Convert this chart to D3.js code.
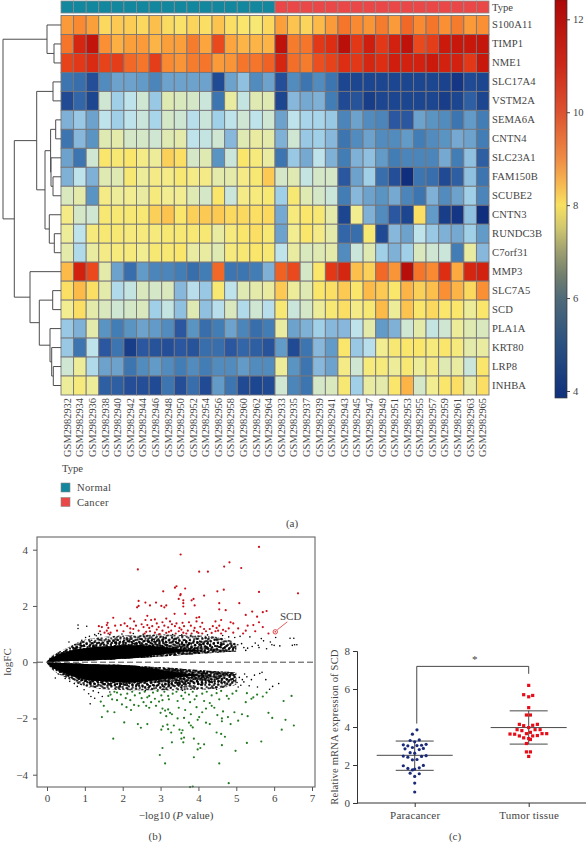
<!DOCTYPE html>
<html><head><meta charset="utf-8">
<script src="https://cdn.jsdelivr.net/npm/d3@7"></script>
<style>
html,body{margin:0;padding:0;background:#fff}
svg{display:block}
text{font-family:"Liberation Serif",serif;fill:#444}
</style></head><body><svg id="c" width="586" height="842"></svg>
<script>
const genes=["S100A11","TIMP1","NME1","SLC17A4","VSTM2A","SEMA6A","CNTN4","SLC23A1","FAM150B","SCUBE2","CNTN3","RUNDC3B","C7orf31","MMP3","SLC7A5","SCD","PLA1A","KRT80","LRP8","INHBA"];
const normalSamples=["GSM2982932","GSM2982934","GSM2982936","GSM2982938","GSM2982940","GSM2982942","GSM2982944","GSM2982946","GSM2982948","GSM2982950","GSM2982952","GSM2982954","GSM2982956","GSM2982958","GSM2982960","GSM2982962","GSM2982964"];
const cancerSamples=["GSM2982933","GSM2982935","GSM2982937","GSM2982939","GSM2982941","GSM2982943","GSM2982945","GSM2982947","GSM2982949","GSM2982951","GSM2982953","GSM2982955","GSM2982957","GSM2982959","GSM2982961","GSM2982963","GSM2982965"];
const expression=[
[9.3,9.6,9.2,8.2,8.4,8.35,8.2,8.6,8.15,8.05,8.25,8.1,8.5,8.1,8.0,7.9,8.2, 9.2,8.5,8.25,8.7,9.3,9.9,9.6,9.4,9.8,9.3,10.1,9.6,9.9,9.5,9.8,9.3,9.5],
[9.9,11.3,11.9,9.5,8.9,9.2,9.3,8.8,9.2,9.2,9.8,9.1,10.6,9.1,8.8,8.8,8.8, 12.0,9.8,9.9,10.9,11.1,12.1,10.9,11.5,10.9,11.4,12.0,10.6,10.8,11.6,11.7,11.7,11.8],
[10.7,10.9,11.2,10.7,10.8,10.1,9.9,10.8,9.6,9.4,9.8,9.9,9.3,9.4,9.9,9.9,10.2, 11.3,10.0,9.8,10.5,10.7,11.1,10.9,11.3,11.1,11.5,11.4,11.4,11.6,11.4,11.4,10.9,11.7],
[5.0,4.9,4.4,5.3,5.6,5.6,5.5,5.2,5.6,5.6,5.6,5.6,4.3,5.6,6.0,5.3,5.6, 4.4,5.3,5.0,5.3,5.0,4.2,4.2,4.2,4.2,4.2,4.2,4.2,4.2,4.15,4.0,4.3,4.2],
[4.3,4.8,4.2,6.9,6.2,6.6,6.9,6.1,7.2,7.1,7.0,6.8,5.0,7.4,6.7,7.2,7.2, 4.2,5.9,5.7,5.8,5.1,4.3,4.5,4.1,4.2,4.2,4.2,4.2,4.2,4.1,4.2,4.7,4.2],
[5.8,6.1,5.6,6.6,6.2,6.6,6.8,6.3,7.0,6.9,6.5,6.8,6.2,6.6,6.9,6.6,6.9, 5.6,6.6,6.3,6.3,6.1,5.2,5.6,5.3,5.2,4.6,4.6,5.6,5.4,5.3,5.0,5.5,5.1],
[5.0,5.9,5.4,7.2,7.3,7.0,7.0,6.9,7.2,7.3,6.6,6.7,6.9,5.9,7.2,7.4,7.3, 5.8,6.9,6.1,6.2,5.9,5.0,5.3,5.6,5.3,5.3,5.5,5.1,5.3,5.4,5.7,5.6,5.1],
[5.6,5.0,6.9,8.0,7.9,8.0,7.7,7.5,8.3,8.1,7.0,7.2,5.4,6.8,8.0,7.8,7.4, 5.0,6.1,5.7,6.6,5.8,5.1,5.8,6.0,5.5,5.1,5.2,5.2,5.2,5.7,5.1,6.0,4.7],
[5.8,6.6,5.8,7.2,7.2,7.9,7.5,7.7,7.7,7.9,7.7,7.7,7.3,7.3,7.7,7.9,8.4, 7.0,7.2,6.7,7.0,7.0,4.6,5.6,6.2,4.9,4.4,3.9,5.0,4.9,4.3,4.7,6.0,5.0],
[7.1,7.3,5.4,7.7,7.5,7.6,7.4,7.8,7.6,7.6,7.2,7.0,8.0,6.8,7.7,7.8,7.9, 6.2,7.9,7.2,7.0,6.8,5.1,5.9,5.6,5.4,5.7,5.2,5.0,5.8,5.3,5.6,6.2,5.2],
[7.7,7.0,6.9,7.9,7.9,7.9,7.9,8.3,8.5,8.0,8.3,8.4,8.4,8.2,8.2,8.1,8.2, 5.7,7.8,8.0,7.9,7.3,4.2,7.6,5.8,5.3,4.6,4.2,8.1,5.5,4.1,4.0,6.0,3.9],
[7.5,6.6,7.8,7.9,7.9,7.8,7.8,7.8,7.9,7.9,7.9,7.9,7.4,7.8,8.0,8.1,7.9, 5.6,7.6,8.0,7.7,7.3,4.8,4.9,7.9,4.3,5.9,5.6,6.6,6.1,5.8,5.7,6.2,5.5],
[7.3,6.4,7.4,7.7,7.8,7.8,7.6,7.9,7.9,8.0,7.4,7.4,7.2,7.8,7.9,8.0,7.9, 6.6,7.4,7.1,7.2,7.3,5.3,6.8,7.2,6.2,5.8,6.2,7.1,6.9,6.8,5.1,7.4,5.9],
[8.7,11.4,10.6,7.3,5.6,4.9,5.5,5.2,5.2,5.1,4.9,5.1,10.1,5.0,5.0,5.1,5.8, 10.2,10.6,7.0,8.0,10.9,11.3,8.6,8.3,10.1,9.4,12.2,9.9,9.6,11.1,9.0,11.3,11.4],
[8.1,8.7,8.1,7.3,6.4,6.7,7.1,7.0,7.1,5.9,6.5,6.1,7.9,6.6,7.2,7.3,7.4, 8.4,7.5,7.2,8.0,8.1,8.4,8.0,8.7,8.4,8.0,8.8,8.3,8.6,9.5,8.8,8.2,9.5],
[7.6,8.1,7.3,7.1,6.9,7.0,7.1,6.2,6.7,6.0,7.2,6.0,6.5,7.1,6.4,6.9,6.5, 7.9,6.8,7.0,7.5,7.9,8.1,7.7,7.9,8.7,7.5,8.5,8.0,8.2,8.0,8.0,7.5,8.0],
[6.1,5.8,7.3,5.4,5.1,5.4,5.6,5.5,5.3,4.6,5.4,4.9,5.1,5.6,5.2,4.9,5.1, 7.4,5.6,5.8,6.2,5.9,5.9,6.6,7.3,5.5,5.8,6.9,7.3,6.7,6.9,7.5,7.2,7.1],
[6.1,5.0,6.6,4.6,5.0,4.1,4.6,4.5,4.4,4.6,4.5,4.9,4.9,4.6,4.8,4.7,4.5, 5.5,4.3,5.0,5.9,5.5,8.0,6.1,6.5,7.6,7.9,8.0,8.0,7.8,8.0,7.8,7.3,7.4],
[6.9,7.5,6.4,5.6,5.6,5.0,5.3,5.5,5.3,5.1,5.3,5.1,5.3,5.3,5.5,5.3,5.3, 7.5,5.4,5.0,5.9,5.6,7.7,6.9,7.8,7.8,7.5,7.9,7.5,7.7,7.2,7.4,6.8,8.0],
[7.5,7.8,7.5,4.7,4.7,4.4,4.4,4.3,5.0,4.4,4.9,4.3,5.5,5.0,4.3,4.2,4.3, 6.9,5.2,5.0,7.0,7.1,7.9,6.2,7.4,7.3,8.0,8.8,7.0,7.6,8.0,8.1,7.4,8.1]];
const cellStops=[3.9,4.2,4.6,5,5.4,5.8,6.2,6.6,6.9,7.2,7.6,8,8.4,9,9.6,10.3,11,11.6,12.3];
const cellColors=["#0f2e7e","#1d4690","#2a579f","#3c75b0","#5a94c3","#7fb0d6","#a0d0e8","#bfe3ea","#cfe6d2","#dfe9b2","#f2ed90","#f9e66a","#fcc952","#fcaa40","#f98a32","#ef5a22","#e03216","#cb1a0c","#b50c08"];
const barStops=[12.42,11,10,9,8.5,8,7.5,7,6.5,6,5,3.85];
const barColors=["#ad0808","#cb2a1a","#dc5230","#ee8c45","#f6b450","#f8e160","#cfc66f","#9d9f70","#737f6e","#4f6a78","#2a5080","#10307c"];
const barTicks=[4,6,8,10,12];
const typeNames=["Normal","Cancer"];
const typeColors=["#12879e","#ea4848"];
const merges=[[1,2,7],[0,"m0",14],[3,4,8],[5,6,5.3],[8,9,8],[7,"m4",10],["m3","m5",10.4],[11,12,6.7],[10,"m7",11.7],["m6","m8",16],["m2","m9",24.3],[14,15,8.3],[18,19,7.7],[17,"m12",9.3],[16,"m13",11],["m11","m14",21.7],[13,"m15",31],["m10","m16",46.7],["m1","m17",58]];

// volcano: the dense cloud is summarised by envelopes
const volcanoTicksX=[0,1,2,3,4,5,6,7], volcanoTicksY=[-4,-2,0,2,4];
const envX=[0,0.05,0.1,0.2,0.3,0.45,0.6,0.8,1,1.25,1.5,1.75,2,2.25,2.5,2.75,3,3.25,3.5,3.75,4,4.25,4.5,4.75,5];
const fringeUp=[0.04,0.12,0.2,0.28,0.36,0.46,0.56,0.7,0.8,0.86,0.9,0.93,0.95,0.96,0.97,0.98,0.98,0.98,0.97,0.96,0.95,0.93,0.9,0.82,0.72];
const coreUp=[0.03,0.09,0.15,0.2,0.28,0.34,0.4,0.46,0.5,0.54,0.56,0.58,0.6,0.6,0.62,0.63,0.62,0.6,0.58,0.56,0.54,0.5,0.47,0.42,0.4];
const gapUp=[0.01,0.012,0.015,0.02,0.025,0.03,0.04,0.05,0.06,0.07,0.085,0.1,0.12,0.14,0.16,0.18,0.2,0.22,0.25,0.27,0.3,0.32,0.34,0.36,0.38];
const gapLo=[-0.01,-0.012,-0.015,-0.02,-0.025,-0.03,-0.04,-0.05,-0.06,-0.07,-0.08,-0.09,-0.1,-0.12,-0.14,-0.16,-0.18,-0.2,-0.22,-0.25,-0.28,-0.3,-0.32,-0.34,-0.36];
const coreLo=[-0.03,-0.09,-0.16,-0.24,-0.3,-0.38,-0.46,-0.55,-0.62,-0.66,-0.68,-0.7,-0.72,-0.72,-0.72,-0.72,-0.72,-0.7,-0.68,-0.66,-0.62,-0.58,-0.55,-0.5,-0.46];
const fringeLo=[-0.04,-0.13,-0.22,-0.32,-0.42,-0.52,-0.62,-0.76,-0.86,-0.92,-0.96,-0.98,-0.99,-1,-1,-1,-1,-1,-1,-0.99,-0.98,-0.96,-0.94,-0.88,-0.8];
const solidShare=[1,1,1,1,1,1,1,1,1,1,1,1,1,1,0.92,0.8,0.66,0.5,0.34,0.2,0.08,0,0,0,0];
const stippleDots=[[1,2],[5,1],[9,3],[13,1],[17,2],[21,1],[24,3],[3,5],[7,6],[11,5],[15,7],[19,5],[23,6],[1,8],[5,9],[9,8],[12,10],[17,9],[21,9],[25,10],[3,11],[7,12],[10,13],[14,12],[19,12],[23,13],[1,14],[5,15],[8,16],[12,15],[16,15],[20,16],[24,16],[2,17],[6,18],[10,19],[14,18],[18,18],[22,19],[25,20],[3,20],[7,21],[12,21],[16,21],[20,22],[23,23],[1,23],[5,24],[9,24],[13,24],[18,25],[22,25],[25,25],[15,3],[2,11],[20,19],[11,17],[6,3],[17,13],[8,22]];
const blackPoints=[[0.82,1.32],[1.05,1.28],[0.82,1.2],[0.58,0.72],[0.92,0.78],[0.74,0.62],[0.66,0.55],[0.88,0.66],[1.02,0.88],[1.12,0.92],[1.18,0.78],[1.26,0.98],[1.3,0.94],[1.36,1.02],[1.42,0.98],[1.66,0.98],[1.98,1.0],[2.28,1.02],[2.54,0.99],[2.96,1.0],[3.32,0.98],[3.56,0.97],[3.8,0.96],[4.24,0.97],[4.64,0.95],[4.8,0.9],[4.96,0.88],[5.04,0.62],[5.1,0.92],[5.14,0.66],[5.2,0.52],[5.25,0.42],[5.3,0.5],[5.36,0.9],[5.42,0.56],[5.5,0.68],[5.58,0.6],[5.66,0.84],[5.72,0.76],[5.6,0.52],[5.8,0.48],[5.9,0.72],[5.94,0.62],[6,0.6],[6.04,0.88],[6.15,0.58],[6.42,0.85],[6.52,0.85],[6.48,0.6],[6.54,0.62],[6.6,0.62],
[0.22,-0.56],[0.3,-0.42],[0.48,-0.58],[0.6,-0.68],[0.72,-0.76],[0.8,-0.86],[0.98,-0.98],[1.1,-1.12],[1.14,-1.48],[1.16,-1.22],[1.22,-1.02],[1.26,-1.28],[1.36,-1.08],[1.46,-1.22],[1.66,-1.06],[2.6,-1.01],[3.58,-1.0],[4.48,-0.96],[5.02,-0.72],[5.08,-0.54],[5.16,-0.62],[5.22,-0.42],[5.28,-0.52],[5.34,-0.84],[5.4,-0.62],[5.48,-0.46],[5.56,-0.88],[5.62,-0.4],[5.68,-0.36],[5.78,-0.62],[5.88,-0.96],[5.96,-0.86],[6.12,-0.76],[5.12,-0.82],[5.2,-0.7],[5.05,-0.88]];
const redPoints=[[5.6,4.1],[3.53,3.83],[4.82,3.55],[4.68,3.4],[5.13,3.35],[2.4,3.3],[4.02,3.22],[4.25,3.22],[3.42,2.7],[3.38,2.65],[3.65,2.62],[4.67,2.58],[4.5,2.52],[3.07,2.52],[5.6,2.5],[6.63,2.45],[3.53,2.42],[3.52,2.38],[4.15,2.37],[3.48,2.25],[3.87,2.25],[3.82,2.2],[3.6,2.2],[2.42,2.18],[2.6,2.12],[2.88,2.12],[4.55,2.1],[5.08,2.1],[3.6,2.1],[3.9,2.02],[2.38,1.95],[2.42,2.0],[2.72,2.02],[3.02,2.0],[3.1,1.95],[3.15,2.02],[3.6,1.98],[4.55,1.88],[5.8,1.82],[5.7,1.78],[5.42,1.8],[4.72,1.85],[3.37,1.72],[3.65,1.72],[5.25,1.68],[5.55,1.62],[4.02,1.6],[3.95,1.58],[2.65,1.65],[1.75,1.58],[2.2,1.55],[2.6,1.5],[2.75,1.5],[2.85,1.52],[3.15,1.55],[3.25,1.45],[3.05,1.42],[1.6,1.4],[1.58,1.32],[2.3,1.45],[2.05,1.38],[2.5,1.35],[2.9,1.38],[3.3,1.35],[3.42,1.38],[3.58,1.4],[3.75,1.42],[3.95,1.45],[4.1,1.4],[4.45,1.45],[4.6,1.5],[4.85,1.42],[4.92,1.38],[5.3,1.3],[5.45,1.32],[5.6,1.42],[5.7,1.25],[5.25,1.12],[4.8,1.2],[4.55,1.3],[4.38,1.28],[1.37,1.28],[1.45,1.25],[1.62,1.22],[1.8,1.3],[1.95,1.32],[2.12,1.28],[2.2,1.2],[2.35,1.3],[2.55,1.25],[2.65,1.32],[2.7,1.22],[2.78,1.28],[2.95,1.25],[3.1,1.3],[3.2,1.24],[3.38,1.28],[3.5,1.22],[3.62,1.28],[3.8,1.3],[3.9,1.22],[4.05,1.26],[4.3,1.18],[4.48,1.22],[4.65,1.15],[5.05,1.2],[5.5,1.1],[5.85,1.02],[1.4,1.1],[1.52,1.05],[1.58,1.12],[1.68,1.05],[1.85,1.12],[2.02,1.1],[2.2,1.05],[2.42,1.12],[2.58,1.02],[2.72,1.1],[2.85,1.05],[2.98,1.0],[3.05,1.12],[3.15,1.04],[3.28,1.12],[3.4,1.02],[3.48,1.1],[3.6,1.05],[3.72,1.12],[3.82,1.02],[3.96,1.08],[4.1,1.02],[4.2,1.1],[4.35,1.04],[4.45,1.1],[4.6,1.02],[4.72,1.1],[4.92,1.05],[5.18,1.02],[1.62,1.02],[2.28,1.18],[2.62,1.08],[2.9,1.16],[3.22,1.08],[3.55,1.16],[3.68,1.02],[3.88,1.12],[4.0,1.04],[4.15,1.18],[4.52,1.12]];
const greenPoints=[[1.75,-2.72],[1.45,-1.95],[1.78,-1.78],[1.6,-1.75],[2.04,-2.14],[2.4,-2.2],[2.48,-2.33],[2.65,-2.2],[1.5,-1.55],[1.42,-1.4],[1.72,-1.32],[1.62,-1.2],[1.85,-1.35],[1.98,-1.5],[2.1,-1.6],[2.22,-1.7],[2.2,-1.35],[2.42,-1.55],[2.55,-1.42],[2.62,-1.55],[2.7,-1.62],[2.75,-1.42],[2.88,-1.55],[2.96,-1.4],[1.85,-1.08],[1.78,-1.05],[1.68,-1.15],[1.95,-1.15],[2.12,-1.12],[2.25,-1.05],[2.32,-1.18],[2.45,-1.1],[2.58,-1.05],[2.7,-1.2],[2.8,-1.08],[2.92,-1.02],[3.02,-1.18],[3.1,-1.05],[3.2,-1.2],[3.32,-1.12],[3.42,-1.05],[3.55,-1.2],[3.65,-1.08],[3.75,-1.15],[3.85,-1.05],[3.95,-1.2],[4.1,-1.12],[4.22,-1.05],[4.35,-1.18],[4.48,-1.1],[4.6,-1.02],[4.75,-1.2],[4.9,-1.12],[5.0,-1.02],[5.28,-1.1],[5.45,-1.25],[5.55,-1.15],[5.8,-1.08],[5.7,-1.22],[2.5,-1.28],[2.65,-1.25],[2.85,-1.3],[3.05,-1.35],[3.22,-1.32],[3.45,-1.38],[3.6,-1.3],[3.78,-1.42],[3.9,-1.32],[4.15,-1.38],[4.3,-1.45],[4.55,-1.32],[4.8,-1.3],[5.25,-1.42],[5.4,-1.3],[6.46,-1.2],[6.25,-1.38],[3.0,-1.8],[3.05,-1.65],[3.12,-1.72],[3.2,-1.68],[3.25,-1.8],[3.3,-1.85],[3.15,-1.92],[3.48,-1.62],[3.65,-1.7],[3.8,-1.85],[3.95,-1.6],[4.1,-1.78],[4.02,-1.95],[4.2,-1.65],[4.42,-1.62],[4.5,-1.88],[4.65,-1.75],[4.62,-2.0],[4.78,-1.95],[4.95,-1.78],[5.15,-1.85],[5.3,-1.92],[5.85,-1.8],[5.95,-1.98],[6.3,-2.05],[6.52,-2.25],[6.2,-2.4],[5.66,-2.82],[5.28,-2.87],[4.98,-3.15],[4.55,-3.6],[4.8,-4.3],[3.85,-4.42],[3.78,-4.44],[3.98,-3.1],[4.05,-3.05],[3.88,-3.38],[4.0,-2.9],[4.15,-2.92],[3.88,-2.72],[3.12,-3.6],[2.98,-3.3],[3.05,-3.05],[3.3,-2.85],[3.55,-2.72],[3.6,-2.85],[3.62,-2.68],[3.5,-2.4],[3.58,-2.42],[3.55,-2.52],[3.2,-2.38],[3.18,-2.22],[3.06,-2.28],[3.02,-2.4],[3.28,-2.5],[3.35,-2.25],[3.75,-2.15],[3.8,-2.25],[3.85,-2.32],[4.2,-2.15],[4.48,-2.5],[4.6,-2.55],[4.7,-2.65],[4.62,-2.95],[4.3,-2.2],[4.62,-2.1],[4.85,-2.2],[5.05,-2.08],[3.98,-2.05],[3.45,-2.0],[3.62,-1.98],[4.35,-1.55],[2.08,-1.28],[2.3,-1.52]];
const scd=[6.03,1.08];

// panel c
const groups=["Paracancer","Tumor tissue"];
const groupColors=["#1b2a78","#e60d18"];
const exprTicks=[0,2,4,6,8];
const paracancer=[[0.02,3.85],[-0.02,3.62],[-0.04,3.29],[0.04,3.32],[0,3.22],[-0.1,3.06],[-0.06,3.01],[0.02,3.02],[0.1,3.09],[0.06,3.04],[-0.02,2.92],[-0.085,2.85],[0.076,2.87],[0.04,2.81],[-0.04,2.65],[0,2.62],[-0.1,2.47],[-0.06,2.41],[0.1,2.49],[0.06,2.45],[-0.02,2.27],[0.02,2.29],[-0.1,1.96],[0.076,1.98],[-0.06,1.82],[0.04,1.85],[-0.02,1.74],[0,1.79],[-0.04,1.57],[0.04,1.54],[0,1.4],[0,1.05],[0,0.58]];
const tumor=[[0,6.19],[-0.044,5.7],[0.035,5.66],[0,5.59],[0,5.02],[-0.02,4.63],[0.015,4.63],[-0.082,4.14],[-0.044,4.07],[0.035,4.09],[0.076,4.14],[0,3.97],[-0.102,3.86],[-0.06,3.81],[0.056,3.86],[0.1,3.86],[-0.02,3.65],[0.015,3.72],[-0.164,3.63],[-0.123,3.62],[-0.082,3.53],[0.158,3.65],[0.117,3.65],[-0.044,3.43],[0.035,3.53],[0.076,3.55],[0,3.39],[0.015,3.34],[-0.02,3.13],[-0.02,2.69],[0.015,2.69],[0,2.45]];
const groupStats=[{mean:2.51,low:1.72,high:3.26},{mean:3.97,low:3.1,high:4.85}];

const svg=d3.select("#c");
const defs=svg.append("defs");
// ---- heatmap ----
const samples=normalSamples.concat(cancerSamples);
const hx=d3.scaleBand().domain(d3.range(samples.length)).range([61,489]);
const hy=d3.scaleBand().domain(d3.range(genes.length)).range([15.5,395]);
const cellColor=d3.scaleLinear().domain(cellStops).range(cellColors).clamp(true);
const typeOf=i=>i<normalSamples.length?0:1;
const g=svg.append("g");
g.append("g").selectAll("rect").data(samples).join("rect").attr("x",(d,i)=>hx(i)).attr("y",1).attr("width",hx.bandwidth()).attr("height",12)
 .attr("fill",(d,i)=>typeColors[typeOf(i)]).attr("stroke","#8a8a8a").attr("stroke-width",0.8);
expression.forEach((row,r)=>{
  g.append("g").selectAll("rect").data(row).join("rect").attr("x",(d,i)=>hx(i)).attr("y",hy(r)).attr("width",hx.bandwidth()).attr("height",hy.bandwidth())
   .attr("fill",d=>cellColor(d)).attr("stroke","#77767a").attr("stroke-width",0.9);
});
g.append("g").selectAll("text").data(genes).join("text").attr("x",492).attr("y",(d,i)=>hy(i)+hy.bandwidth()/2+3.5).attr("font-size",10.6).attr("letter-spacing",0.1).text(d=>d);
g.append("text").attr("x",492).attr("y",11).attr("font-size",10.6).text("Type");
g.append("g").selectAll("text").data(samples).join("text").attr("font-size",10.4).attr("text-anchor","end").attr("fill","#555")
 .attr("transform",(d,i)=>`translate(${hx(i)+hx.bandwidth()/2+3.5},398) rotate(-90)`).text(d=>d);
const dx=d3.scaleLinear().domain([0,58]).range([61,3]);
const nodes={};
const pos=k=>typeof k==="number"?{y:hy(k)+hy.bandwidth()/2,h:0}:nodes[k];
merges.forEach((m,i)=>{
  const a=pos(m[0]),b=pos(m[1]);
  nodes["m"+i]={y:(a.y+b.y)/2,h:m[2]};
  const p=d3.path();
  p.moveTo(dx(a.h),a.y);p.lineTo(dx(m[2]),a.y);p.lineTo(dx(m[2]),b.y);p.lineTo(dx(b.h),b.y);
  g.append("path").attr("d",p.toString()).attr("fill","none").attr("stroke","#4d4d4d").attr("stroke-width",1);
});
g.append("text").attr("x",62).attr("y",472).attr("font-size",10.6).text("Type");
typeNames.forEach((n,i)=>{
  g.append("rect").attr("x",61).attr("y",483+i*14.5).attr("width",9).attr("height",9).attr("fill",typeColors[i]).attr("stroke","#8a8a8a").attr("stroke-width",0.6);
  g.append("text").attr("x",77).attr("y",491+i*14.5).attr("font-size",10.6).attr("letter-spacing",0.3).text(n);
});
g.append("text").attr("x",292).attr("y",527).attr("text-anchor","middle").attr("font-size",11).text("(a)");
// colorbar
const barY=d3.scaleLinear().domain([4,12]).range([391,19.3]);
const lg=defs.append("linearGradient").attr("id","bar").attr("x1",0).attr("x2",0).attr("y1",0).attr("y2",1);
const bMax=d3.max(barStops),bMin=d3.min(barStops);
barStops.forEach((v,i)=>lg.append("stop").attr("offset",(bMax-v)/(bMax-bMin)).attr("stop-color",barColors[i]));
g.append("rect").attr("x",555).attr("y",barY(bMax)).attr("width",12).attr("height",barY(bMin)-barY(bMax)).attr("fill","url(#bar)").attr("stroke","#333").attr("stroke-width",0.7);
const barAxis=g.append("g").attr("transform","translate(567,0)").call(d3.axisRight(barY).tickValues(barTicks).tickSize(3).tickPadding(3));
barAxis.select(".domain").remove();
barAxis.selectAll("text").attr("font-size",10.6).attr("font-family","Liberation Serif").attr("fill","#444");
barAxis.selectAll("line").attr("stroke","#444");

// ---- volcano ----
const vx=d3.scaleLinear().domain([0,7]).range([47,312]);
const vy=d3.scaleLinear().domain([-4,4]).range([774.7,549.7]);
const v=svg.append("g");
const makeStipple=(id,shiftX,shiftY,angle)=>{
  const pat=defs.append("pattern").attr("id",id).attr("patternUnits","userSpaceOnUse").attr("width",26).attr("height",26)
    .attr("patternTransform",`translate(${shiftX},${shiftY}) rotate(${angle})`);
  pat.selectAll("circle").data(stippleDots).join("circle").attr("cx",d=>d[0]).attr("cy",d=>d[1]).attr("r",1).attr("fill","#000");
};
const stipples=[["st1",0,0,13],["st2",7,4,-21],["st3",13,9,37],["st4",3,17,-48],["st5",19,2,71]];
stipples.forEach(s=>makeStipple(s[0],s[1],s[2],s[3]));
const layers=n=>stipples.slice(0,n).map(s=>`url(#${s[0]})`);
const env=envX.map((x,i)=>({x,fu:fringeUp[i],cu:coreUp[i],gu:gapUp[i],gl:gapLo[i],cl:coreLo[i],fl:fringeLo[i],share:solidShare[i]}));
const band=(lo,hi)=>d3.area().x(d=>vx(d.x)).y0(d=>vy(lo(d))).y1(d=>vy(hi(d))).curve(d3.curveCatmullRom);
const paint=(data,lo,hi,n)=>layers(n).forEach(f=>v.append("path").attr("d",band(lo,hi)(data)).attr("fill",f));
// sparse outer fringes, then a denser inner half of the fringes
paint(env,d=>d.cu,d=>d.fu,2);
paint(env,d=>d.cl,d=>d.fl,2);
paint(env,d=>d.cu,d=>d.cu+(d.fu-d.cu)*0.55,2);
paint(env,d=>d.cl,d=>d.cl+(d.fl-d.cl)*0.55,2);
// stippled core everywhere, with a solid wedge that narrows toward high -log10(P)
paint(env,d=>d.gu,d=>d.cu,5);
paint(env,d=>d.gl,d=>d.cl,5);
const solid=env.filter(d=>d.share>0);
const half=(a,b,sign)=>d=>(a(d)+b(d))/2+sign*d.share*(b(d)-a(d))/2;
v.append("path").attr("d",band(half(d=>d.gu,d=>d.cu,-1),half(d=>d.gu,d=>d.cu,1))(solid)).attr("fill","#000");
v.append("path").attr("d",band(half(d=>d.gl,d=>d.cl,-1),half(d=>d.gl,d=>d.cl,1))(solid)).attr("fill","#000");
const dots=(data,col,r)=>v.append("g").selectAll("circle").data(data).join("circle").attr("cx",d=>vx(d[0])).attr("cy",d=>vy(d[1])).attr("r",r).attr("fill",col);
dots(blackPoints,"#000",0.8);
dots(redPoints,"#c8101a",1.1);
dots(greenPoints,"#237a23",1.1);
v.append("line").attr("x1",37).attr("x2",315).attr("y1",vy(0)).attr("y2",vy(0)).attr("stroke","#333").attr("stroke-width",0.9).attr("stroke-dasharray","6 3");
v.append("rect").attr("x",37).attr("y",537).attr("width",278).attr("height",250).attr("fill","none").attr("stroke","#666").attr("stroke-width",1.1);
const styleAxis=a=>{a.selectAll("text").attr("font-size",11).attr("font-family","Liberation Serif").attr("fill","#444");a.selectAll("line").attr("stroke","#555");};
const fmt=d=>d<0?"\u2212"+Math.abs(d):d;
v.append("g").attr("transform","translate(0,787)").call(d3.axisBottom(vx).tickValues(volcanoTicksX).tickSize(4).tickPadding(3).tickFormat(fmt)).call(styleAxis).select(".domain").remove();
v.append("g").attr("transform","translate(37,0)").call(d3.axisLeft(vy).tickValues(volcanoTicksY).tickSize(4).tickPadding(5).tickFormat(fmt)).call(styleAxis).select(".domain").remove();
v.append("text").attr("transform","translate(11,662) rotate(-90)").attr("text-anchor","middle").attr("font-size",11).text("logFC");
const xl=v.append("text").attr("x",176).attr("y",819).attr("text-anchor","middle").attr("font-size",11);
xl.append("tspan").text("\u2212log10 (");xl.append("tspan").attr("font-style","italic").text("P");xl.append("tspan").text(" value)");
v.append("text").attr("x",155).attr("y",840).attr("text-anchor","middle").attr("font-size",11).text("(b)");
v.append("circle").attr("cx",vx(scd[0])).attr("cy",vy(scd[1])).attr("r",2.2).attr("fill","none").attr("stroke","#e03030").attr("stroke-width",0.9);
v.append("circle").attr("cx",vx(scd[0])).attr("cy",vy(scd[1])).attr("r",0.8).attr("fill","#e03030");
v.append("line").attr("x1",vx(scd[0])+2).attr("y1",vy(scd[1])-2).attr("x2",vx(scd[0])+12).attr("y2",vy(scd[1])-10).attr("stroke","#e03030").attr("stroke-width",0.8);
v.append("text").attr("x",280).attr("y",620).attr("font-size",11).text("SCD");

// ---- panel c ----
const cx=d3.scaleLinear().domain([0,1]).range([414.7,528.7]);
const cy=d3.scaleLinear().domain([0,8]).range([803,651]);
const c=svg.append("g");
const lineC="#333";
c.append("line").attr("x1",357).attr("x2",586).attr("y1",cy(0)).attr("y2",cy(0)).attr("stroke",lineC).attr("stroke-width",1);
const cya=c.append("g").attr("transform","translate(357,0)").call(d3.axisLeft(cy).tickValues(exprTicks).tickSize(4).tickPadding(3));
cya.selectAll("text").attr("font-size",11).attr("font-family","Liberation Serif").attr("fill","#444");
cya.selectAll("line,.domain").attr("stroke",lineC);
const cxa=c.append("g").attr("transform","translate(0,803)").call(d3.axisBottom(cx).tickValues([0,1]).tickSize(4).tickPadding(4).tickFormat(d=>groups[d]));
cxa.select(".domain").remove();
cxa.selectAll("text").attr("font-size",11).attr("font-family","Liberation Serif").attr("fill","#444").attr("letter-spacing",0.2);
cxa.selectAll("line").attr("stroke",lineC);
c.append("text").attr("transform","translate(338,727) rotate(-90)").attr("text-anchor","middle").attr("font-size",10.6).attr("letter-spacing",0.15).text("Relative mRNA expression of SCD");
c.append("text").attr("x",455).attr("y",840).attr("text-anchor","middle").attr("font-size",11).text("(c)");
groupStats.forEach((s,i)=>{
  const seg=(x1,x2,y1,y2)=>c.append("line").attr("x1",x1).attr("x2",x2).attr("y1",y1).attr("y2",y2).attr("stroke",lineC).attr("stroke-width",0.9);
  const m=cx(i);
  seg(m-38,m+38,cy(s.mean),cy(s.mean));
  seg(m-19,m+19,cy(s.low),cy(s.low));
  seg(m-19,m+19,cy(s.high),cy(s.high));
  seg(m,m,cy(s.low),cy(s.high));
});
c.append("g").selectAll("circle").data(paracancer).join("circle").attr("cx",d=>cx(d[0])).attr("cy",d=>cy(d[1])).attr("r",1.6).attr("fill",groupColors[0]);
c.append("g").selectAll("rect").data(tumor).join("rect").attr("x",d=>cx(1+d[0])-1.6).attr("y",d=>cy(d[1])-1.6).attr("width",3.2).attr("height",3.2).attr("fill",groupColors[1]);
c.append("path").attr("d",d3.line()([[cx(0.018),cy(4.18)],[cx(0.018),cy(7.19)],[cx(1),cy(7.19)],[cx(1),cy(6.8)]])).attr("fill","none").attr("stroke",lineC).attr("stroke-width",0.9);
c.append("text").attr("x",474.7).attr("y",663).attr("text-anchor","middle").attr("font-size",11).attr("fill","#777").text("*");
</script></body></html>
